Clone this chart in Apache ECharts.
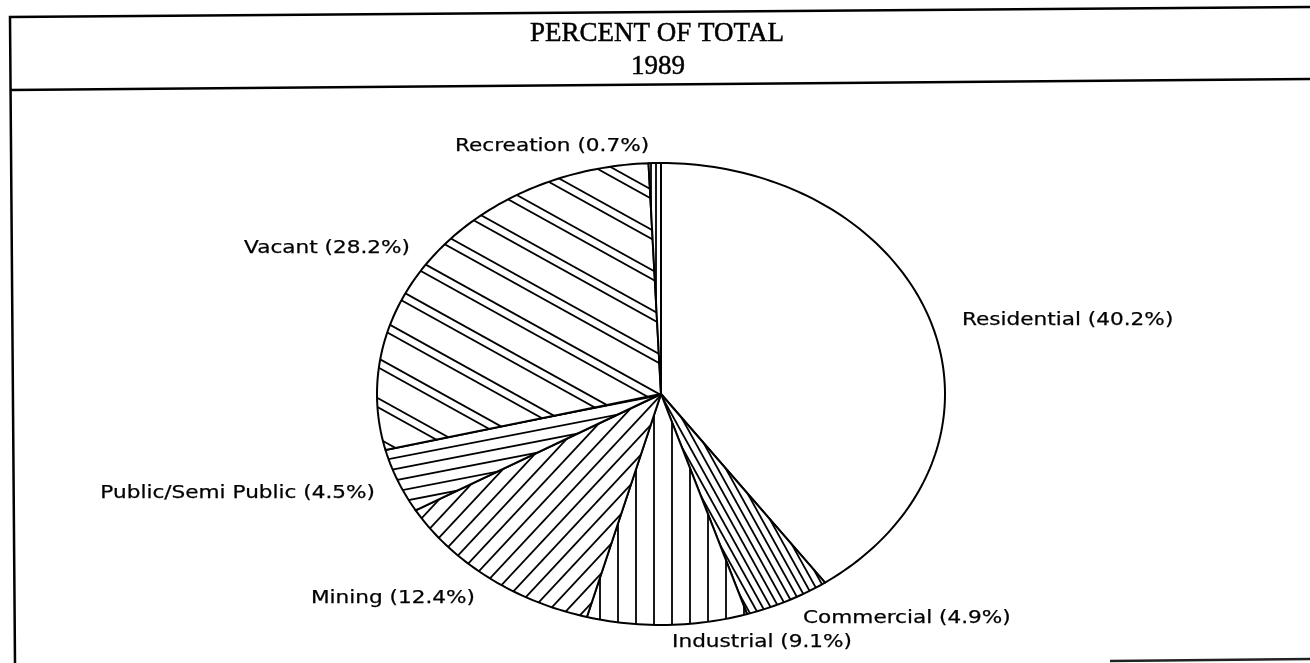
<!DOCTYPE html>
<html>
<head>
<meta charset="utf-8">
<script src="https://cdn.jsdelivr.net/npm/echarts@6/dist/echarts.min.js"></script>
<style>
	html, body { margin: 0; padding: 0; background: #fff; }
	#main { width: 1310px; height: 663px; }
</style>
</head>
<body>
<div id="main"></div>
<script>
	// land use, percent of total, 1989 (clockwise from 12 o'clock)
	var categories = ['Residential', 'Commercial', 'Industrial', 'Mining', 'Public/Semi Public', 'Vacant', 'Recreation'];
	var percents = [40.2, 4.9, 9.1, 12.4, 4.5, 28.2, 0.7];
	var titleLines = ['PERCENT OF TOTAL', '1989'];

	// label anchors: x, y, align
	var labelSpots = [
		[962, 320, 'left'],
		[803, 618, 'left'],
		[852, 642, 'right'],
		[475, 598, 'right'],
		[375, 493, 'right'],
		[410, 248, 'right'],
		[455, 146, 'left']
	];

	// hatch for each slice: line angle (deg), period, offsets of lines inside a period
	var hatches = [
		null,
		{ angle: 61, period: 7, offsets: [0] },
		{ angle: 90, period: 18, offsets: [7] },
		{ angle: -47, period: 13, offsets: [0] },
		{ angle: -11, period: 11, offsets: [0] },
		{ angle: 29, period: 35, offsets: [0, 8] },
		{ angle: 90, period: 5, offsets: [0] }
	];

	var W = 1310, H = 663, PX = 661, PY = 395;

	function makeHatch(h) {
		var cv = document.createElement('canvas');
		cv.width = W;
		cv.height = H;
		var ctx = cv.getContext('2d');
		ctx.fillStyle = '#fff';
		ctx.fillRect(0, 0, W, H);
		ctx.strokeStyle = '#000';
		ctx.lineWidth = 1.8;
		var a = h.angle * Math.PI / 180;
		var dx = Math.cos(a), dy = Math.sin(a);
		var nx = -dy, ny = dx;
		for (var k = -120; k <= 120; k++) {
			h.offsets.forEach(function (off) {
				var d = k * h.period + off;
				var px = PX + nx * d, py = PY + ny * d;
				ctx.beginPath();
				ctx.moveTo(px - dx * 2000, py - dy * 2000);
				ctx.lineTo(px + dx * 2000, py + dy * 2000);
				ctx.stroke();
			});
		}
		return { image: cv, repeat: 'no-repeat' };
	}

	var fills = hatches.map(function (h) { return h ? makeHatch(h) : '#fff'; });

	var starts = [];
	var acc = 0;
	percents.forEach(function (p) { starts.push(acc); acc += p; });

	var pieData = percents.map(function (p, i) {
		return { name: categories[i], value: [starts[i], p] };
	});

	var labelFont = '18px "DejaVu Sans"';
	var titleFont = '27px "Liberation Serif"';
	var graphics = [
		// scanned frame
		{ type: 'polyline', shape: { points: [[1310, 7], [10, 17], [15, 663]] }, style: { fill: null, stroke: '#000', lineWidth: 2.5 } },
		{ type: 'line', shape: { x1: 10, y1: 90, x2: 1310, y2: 79 }, style: { stroke: '#000', lineWidth: 2.5 } },
		{ type: 'line', shape: { x1: 1110, y1: 661, x2: 1310, y2: 659 }, style: { stroke: '#222', lineWidth: 2.5 } },
		{ type: 'text', x: 657, y: 34, style: { text: titleLines[0], font: titleFont, fill: '#000', stroke: '#000', lineWidth: 0.5, textAlign: 'center', textVerticalAlign: 'middle', align: 'center', verticalAlign: 'middle' } },
		{ type: 'text', x: 658, y: 67, style: { text: titleLines[1], font: titleFont, fill: '#000', stroke: '#000', lineWidth: 0.5, textAlign: 'center', textVerticalAlign: 'middle', align: 'center', verticalAlign: 'middle' } }
	];
	categories.forEach(function (c, i) {
		var s = labelSpots[i];
		graphics.push({
			type: 'text', x: s[0], y: s[1], scaleX: 1.2,
			style: {
				text: c + ' (' + percents[i].toFixed(1) + '%)',
				font: labelFont, fill: '#000', stroke: '#000', lineWidth: 0.25,
				textAlign: s[2], textVerticalAlign: 'middle', align: s[2], verticalAlign: 'middle'
			}
		});
	});

	var chart = echarts.init(document.getElementById('main'), null, { renderer: 'canvas' });
	chart.setOption({
		backgroundColor: '#fff',
		animation: false,
		grid: { left: 377, top: 163, width: 568, height: 462 },
		xAxis: { type: 'value', min: -1, max: 1, show: false },
		yAxis: { type: 'value', min: -1, max: 1, show: false },
		graphic: graphics,
		series: [{
			type: 'custom',
			coordinateSystem: 'cartesian2d',
			silent: true,
			data: pieData,
			renderItem: function (params, api) {
				var s = api.value(0), v = api.value(1);
				var pts = [api.coord([0, 0])];
				var steps = Math.max(2, Math.ceil(v * 3));
				for (var j = 0; j <= steps; j++) {
					var t = (s + v * j / steps) / 100 * Math.PI * 2;
					pts.push(api.coord([Math.sin(t), Math.cos(t)]));
				}
				return {
					type: 'polygon',
					shape: { points: pts },
					style: { fill: fills[params.dataIndex], stroke: '#000', lineWidth: 2, lineJoin: 'round' }
				};
			}
		}]
	});
</script>
</body>
</html>
